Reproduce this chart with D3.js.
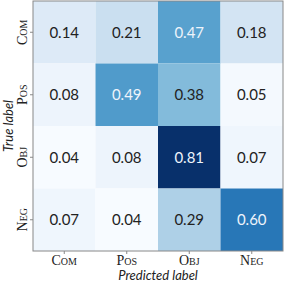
<!DOCTYPE html>
<html>
<head>
<meta charset="utf-8">
<script src="https://cdn.jsdelivr.net/npm/d3@7"></script>
<style>
  body { margin: 0; background: #fff; }
</style>
</head>
<body>
<div id="app"></div>
<script>
// confusion matrix, rows = true label, cols = predicted label
const labels = ["Com", "Pos", "Obj", "Neg"]
const rowCom = [0.14, 0.21, 0.47, 0.18]
const rowPos = [0.08, 0.49, 0.38, 0.05]
const rowObj = [0.04, 0.08, 0.81, 0.07]
const rowNeg = [0.07, 0.04, 0.29, 0.60]
const rows = [rowCom, rowPos, rowObj, rowNeg]

const cells = rows.flatMap((r, i) => r.map((v, j) => ({ t: labels[i], p: labels[j], v })))

const W = 285, H = 285
const m = { left: 33, top: 1, right: 2, bottom: 34 }

const svg = d3.select("#app").append("svg")
    .attr("width", W)
    .attr("height", H)

const x = d3.scaleBand().domain(labels).range([m.left, W - m.right])
const y = d3.scaleBand().domain(labels).range([m.top, H - m.bottom])

const vals = rows.flat()
const color = d3.scaleSequential(d3.interpolateBlues).domain(d3.extent(vals))
const thresh = d3.max(vals) / 2

svg.append("g")
  .selectAll("rect")
  .data(cells)
  .join("rect")
    .attr("x", d => x(d.p))
    .attr("y", d => y(d.t))
    .attr("width", x.bandwidth())
    .attr("height", y.bandwidth())
    .attr("fill", d => color(d.v))

svg.append("g")
    .attr("font-family", "Lato, 'DejaVu Sans', sans-serif")
    .attr("font-size", 15)
    .attr("text-anchor", "middle")
  .selectAll("text")
  .data(cells)
  .join("text")
    .attr("x", d => x(d.p) + x.bandwidth() / 2)
    .attr("y", d => y(d.t) + y.bandwidth() / 2)
    .attr("dy", "0.36em")
    .attr("fill", d => d.v > thresh ? "#eef4fb" : "#222")
    .text(d => d.v.toFixed(2))

// frame
svg.append("rect")
    .attr("x", m.left)
    .attr("y", m.top)
    .attr("width", W - m.left - m.right)
    .attr("height", H - m.top - m.bottom)
    .attr("fill", "none")
    .attr("stroke", "#888")
    .attr("stroke-width", 1)

const xAxis = svg.append("g")
    .attr("transform", `translate(0,${H - m.bottom})`)
    .call(d3.axisBottom(x).tickSize(3).tickPadding(1))
const yAxis = svg.append("g")
    .attr("transform", `translate(${m.left},0)`)
    .call(d3.axisLeft(y).tickSize(3).tickPadding(4))

for (const a of [xAxis, yAxis]) {
  a.select(".domain").remove()
  a.selectAll(".tick line").attr("stroke", "#888")
  a.selectAll(".tick text")
      .attr("font-family", "'Liberation Serif', 'DejaVu Serif', serif")
      .attr("font-size", 14)
      .attr("font-variant", "small-caps")
      .attr("fill", "#222")
}
yAxis.selectAll(".tick text")
    .attr("transform", "rotate(-90)")
    .attr("x", 0)
    .attr("y", -6)
    .attr("dy", 0)
    .attr("text-anchor", "middle")

svg.append("text")
    .attr("x", (m.left + W - m.right) / 2)
    .attr("y", 280)
    .attr("text-anchor", "middle")
    .attr("font-family", "Lato, sans-serif")
    .attr("font-style", "italic")
    .attr("font-size", 13)
    .attr("fill", "#222")
    .text("Predicted label")

svg.append("text")
    .attr("transform", `translate(12.5,${(m.top + H - m.bottom) / 2}) rotate(-90)`)
    .attr("text-anchor", "middle")
    .attr("font-family", "Lato, sans-serif")
    .attr("font-style", "italic")
    .attr("font-size", 13)
    .attr("fill", "#222")
    .text("True label")
</script>
</body>
</html>
